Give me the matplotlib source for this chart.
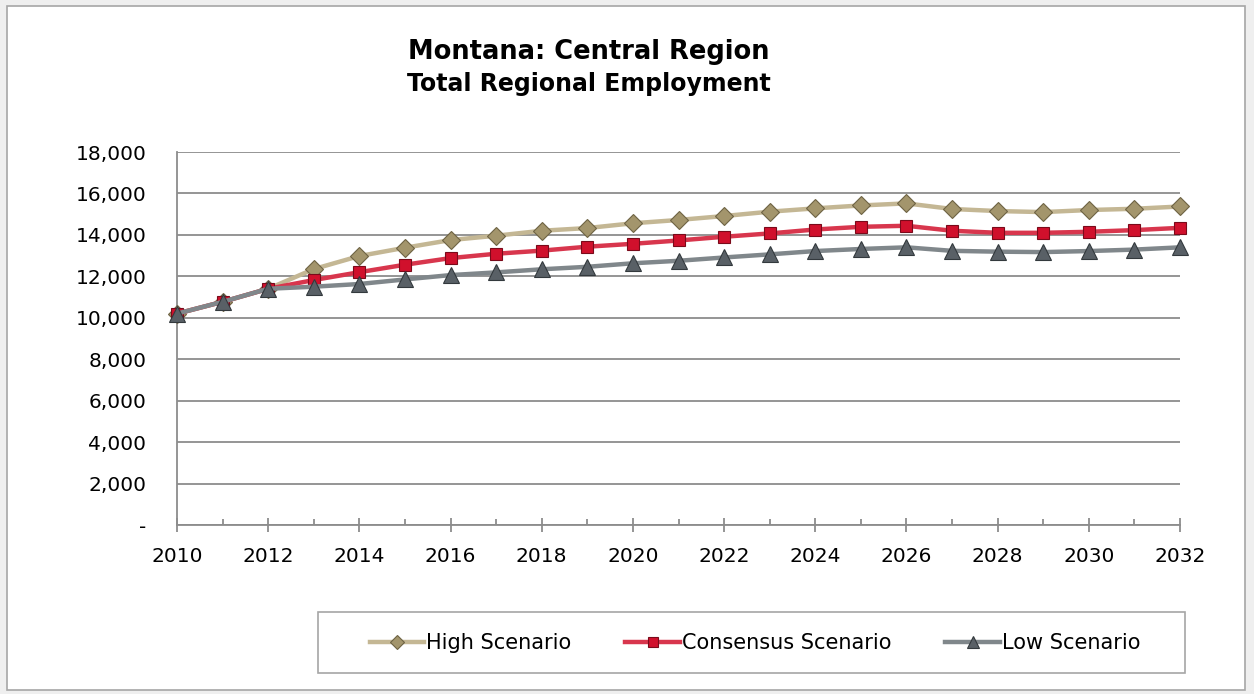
import numpy as np
import matplotlib
matplotlib.use('Agg')
import matplotlib.pyplot as plt
from matplotlib.patches import Rectangle
from matplotlib.ticker import FuncFormatter, MultipleLocator

plt.rcParams.update({
    "font.family": ["DejaVu Sans"],
    "font.size": 13,
})

years = list(range(2010, 2033))
high = [10200, 10770, 11400, 12350, 12980, 13380, 13750, 13960, 14200, 14330, 14560,
        14720, 14910, 15120, 15280, 15420, 15520, 15250, 15150, 15100, 15200, 15260, 15370]
consensus = [10200, 10770, 11400, 11820, 12200, 12560, 12880, 13090, 13240, 13430, 13570,
             13730, 13910, 14070, 14260, 14390, 14440, 14200, 14100, 14100, 14150, 14230, 14340]
low = [10200, 10770, 11400, 11500, 11630, 11850, 12060, 12190, 12340, 12460, 12630,
       12750, 12910, 13060, 13220, 13320, 13400, 13230, 13190, 13170, 13220, 13290, 13400]

series = [
    ("High Scenario", high, "#C4B794", "D", "#A3956C", "#6E6344", 9.5),
    ("Consensus Scenario", consensus, "#D8364D", "s", "#D0102C", "#7A0A1A", 9),
    ("Low Scenario", low, "#80878B", "^", "#596066", "#33393D", 11.5),
]

W, H = 1254, 694
fig = plt.figure(figsize=(W / 100, H / 100), dpi=100, facecolor="#EFEFEF")

# background layer: chart frame and legend box, in pixel coordinates
bg = fig.add_axes([0, 0, 1, 1], zorder=-10)
bg.set_xlim(0, W)
bg.set_ylim(H, 0)
bg.axis("off")
bg.add_patch(Rectangle((7, 6), 1238, 684, facecolor="white", edgecolor="#A6A6A6", lw=1.2))
bg.add_patch(Rectangle((318, 612), 1185 - 318, 673 - 612, facecolor="white",
                       edgecolor="#A6A6A6", lw=1.2))

ax = fig.add_axes([177 / W, 1 - 525 / H, (1180 - 177) / W, (525 - 152) / H])
ax.patch.set_alpha(0)

for name, vals, lc, mk, mfc, mec, ms in series:
    ax.plot(years, vals, color=lc, lw=3.2, marker=mk, markersize=ms,
            markerfacecolor=mfc, markeredgecolor=mec, markeredgewidth=0.8,
            label=name, zorder=3, clip_on=False)

ax.set_xlim(2010, 2032)
ax.set_ylim(0, 18000)
ax.yaxis.set_major_locator(MultipleLocator(2000))
ax.yaxis.set_major_formatter(FuncFormatter(lambda v, p: "-" if v == 0 else f"{int(v):,}"))
ax.xaxis.set_major_locator(MultipleLocator(2))
ax.xaxis.set_minor_locator(MultipleLocator(1))
ax.grid(axis="y", color="#8C8C8C", lw=1.3)
ax.set_axisbelow(True)

for s in ["top", "right"]:
    ax.spines[s].set_visible(False)
for s in ["left", "bottom"]:
    ax.spines[s].set_color("#8C8C8C")
    ax.spines[s].set_linewidth(1.3)

ax.tick_params(axis="y", length=0, pad=22, labelsize=14.5)
ax.tick_params(axis="x", which="major", direction="inout", length=10, width=1.3,
               color="#8C8C8C", labelsize=14.5, pad=11)
ax.tick_params(axis="x", which="minor", direction="in", length=4, width=1.3, color="#8C8C8C")

fig.text(589 / W, 1 - 52 / H, "Montana: Central Region", ha="center", va="center",
         fontsize=18.5, fontweight="bold")
fig.text(589 / W, 1 - 84 / H, "Total Regional Employment", ha="center", va="center",
         fontsize=17, fontweight="bold")

handles, labels = ax.get_legend_handles_labels()
leg = fig.legend(handles, labels, loc="center", bbox_to_anchor=(755 / W, 1 - 643 / H),
                 ncol=3, frameon=False, fontsize=15, handlelength=2.6, handletextpad=0.1,
                 columnspacing=2.6, markerscale=0.75)

fig.savefig("out.png", dpi=100, facecolor=fig.get_facecolor())
